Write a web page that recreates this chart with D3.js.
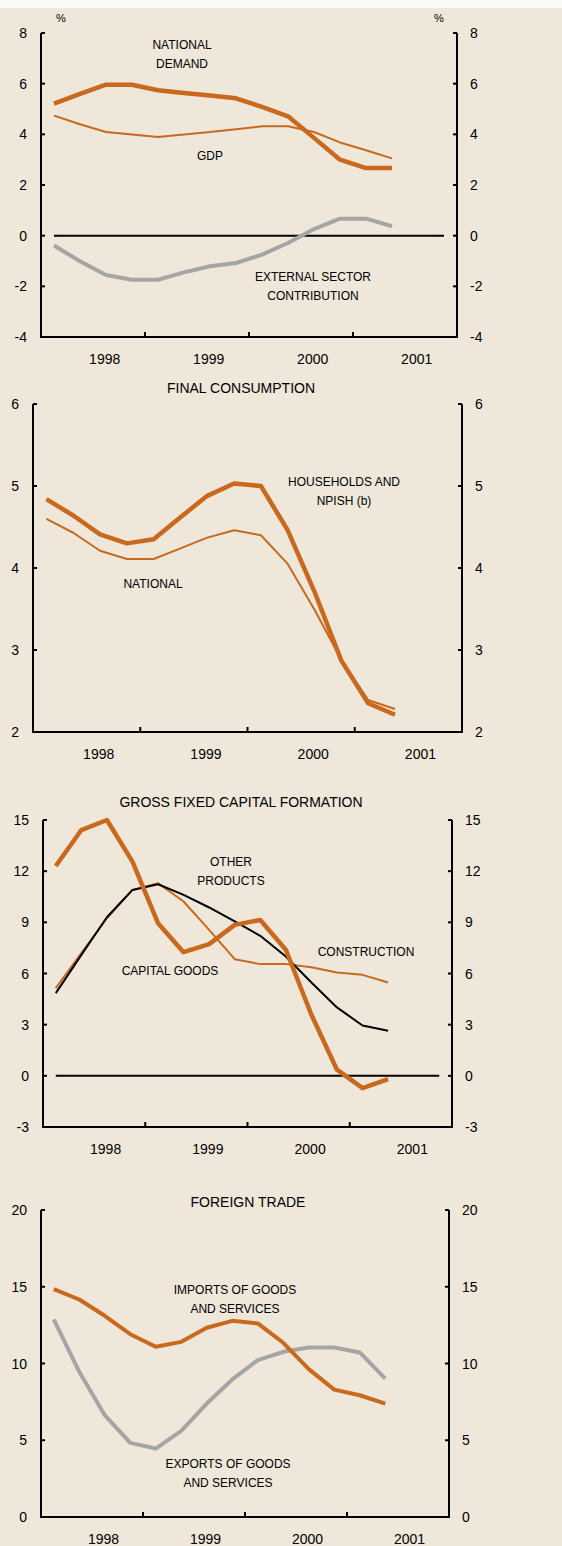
<!DOCTYPE html>
<html>
<head>
<meta charset="utf-8">
<script src="https://cdnjs.cloudflare.com/ajax/libs/d3/7.8.5/d3.min.js"></script>
<style>
  body { margin: 0; background: #efe7da; }
  svg { display: block; font-family: "Liberation Sans", Arial, sans-serif; }
</style>
</head>
<body>
<svg id="chart" width="562" height="1546"></svg>
<script>
// quarterly, 1998 Q1 .. 2001 Q2
var years = ['1998', '1999', '2000', '2001'];

// panel 1
var nationalDemand = [5.21, 5.6, 5.96, 5.96, 5.74, 5.63, 5.53, 5.42, 5.08, 4.71, 3.86, 3.0, 2.67, 2.67];
var gdp = [4.74, 4.4, 4.09, 3.99, 3.89, 3.99, 4.09, 4.2, 4.32, 4.32, 4.09, 3.68, 3.37, 3.05];
var externalSector = [-0.39, -1.01, -1.55, -1.74, -1.74, -1.45, -1.21, -1.08, -0.75, -0.29, 0.26, 0.67, 0.67, 0.37];

// panel 2
var households = [4.84, 4.64, 4.41, 4.3, 4.35, 4.62, 4.88, 5.03, 5.0, 4.46, 3.71, 2.87, 2.35, 2.21];
var nationalConsumption = [4.6, 4.43, 4.21, 4.11, 4.11, 4.24, 4.37, 4.46, 4.4, 4.05, 3.49, 2.88, 2.39, 2.28];

// panel 3
var otherProducts = [12.3, 14.41, 15.0, 12.56, 8.95, 7.25, 7.72, 8.85, 9.14, 7.39, 3.58, 0.36, -0.72, -0.19];
var construction = [5.14, 7.19, 9.24, 10.9, 11.29, 10.22, 8.56, 6.84, 6.55, 6.55, 6.37, 6.06, 5.92, 5.47];
var capitalGoods = [4.85, 7.09, 9.3, 10.9, 11.23, 10.61, 9.87, 9.05, 8.21, 7.0, 5.47, 4.01, 2.95, 2.64];

// panel 4
var imports = [14.85, 14.17, 13.11, 11.91, 11.09, 11.41, 12.33, 12.78, 12.61, 11.35, 9.63, 8.3, 7.93, 7.39];
var exports = [12.87, 9.46, 6.63, 4.83, 4.46, 5.61, 7.39, 8.96, 10.22, 10.76, 11.04, 11.04, 10.72, 9.02];

var ORANGE = '#c8691d', GREY = '#a5a5a5', BLACK = '#000';

var panels = [
  { left: 41, right: 457, top: 33, bottom: 337, domain: [-4, 8], step: 2, zero: true,
    series: [
      { values: gdp, color: ORANGE, width: 2 },
      { values: nationalDemand, color: ORANGE, width: 4.5 },
      { values: externalSector, color: GREY, width: 4 }
    ],
    labels: [
      { text: ['NATIONAL', 'DEMAND'], x: 182, y: 45 },
      { text: ['GDP'], x: 210, y: 156 },
      { text: ['EXTERNAL SECTOR', 'CONTRIBUTION'], x: 313, y: 277 }
    ] },
  { left: 33, right: 462, top: 404, bottom: 732, domain: [2, 6], step: 1,
    title: { text: 'FINAL CONSUMPTION', x: 241, y: 388 },
    series: [
      { values: nationalConsumption, color: ORANGE, width: 2 },
      { values: households, color: ORANGE, width: 4.5 }
    ],
    labels: [
      { text: ['HOUSEHOLDS AND', 'NPISH (b)'], x: 344, y: 482 },
      { text: ['NATIONAL'], x: 153, y: 584 }
    ] },
  { left: 43, right: 452, top: 820, bottom: 1127, domain: [-3, 15], step: 3, zero: true,
    title: { text: 'GROSS FIXED CAPITAL FORMATION', x: 241, y: 802 },
    series: [
      { values: construction, color: ORANGE, width: 2 },
      { values: capitalGoods, color: BLACK, width: 2 },
      { values: otherProducts, color: ORANGE, width: 4.5 }
    ],
    labels: [
      { text: ['OTHER', 'PRODUCTS'], x: 231, y: 862 },
      { text: ['CONSTRUCTION'], x: 366, y: 952 },
      { text: ['CAPITAL GOODS'], x: 170, y: 971 }
    ] },
  { left: 41, right: 449, top: 1210, bottom: 1517, domain: [0, 20], step: 5,
    title: { text: 'FOREIGN TRADE', x: 248, y: 1202 },
    series: [
      { values: exports, color: GREY, width: 4 },
      { values: imports, color: ORANGE, width: 4 }
    ],
    labels: [
      { text: ['IMPORTS OF GOODS', 'AND SERVICES'], x: 235, y: 1290 },
      { text: ['EXPORTS OF GOODS', 'AND SERVICES'], x: 228, y: 1464 }
    ] }
];

var svg = d3.select('#chart');
svg.append('rect').attr('width', 562).attr('height', 1546).attr('fill', '#efe7da');
svg.append('rect').attr('width', 562).attr('height', 8).attr('fill', '#fbfaf7');

svg.append('text').attr('x', 61).attr('y', 18).attr('text-anchor', 'middle')
  .attr('dominant-baseline', 'central').attr('font-size', 11).text('%');
svg.append('text').attr('x', 439).attr('y', 18).attr('text-anchor', 'middle')
  .attr('dominant-baseline', 'central').attr('font-size', 11).text('%');

var drawPanel = function(p) {
  var g = svg.append('g');
  var x = d3.scaleLinear().domain([0, 16]).range([p.left, p.right]);
  var y = d3.scaleLinear().domain(p.domain).range([p.bottom, p.top]);
  var ticks = d3.range(p.domain[0], p.domain[1] + p.step / 2, p.step);

  if (p.title) {
    g.append('text').attr('x', p.title.x).attr('y', p.title.y)
      .attr('text-anchor', 'middle').attr('dominant-baseline', 'central')
      .attr('font-size', 14).text(p.title.text);
  }

  // frame: left, right, bottom
  var frame = d3.path();
  frame.moveTo(p.left, p.top); frame.lineTo(p.left, p.bottom);
  frame.lineTo(p.right, p.bottom); frame.lineTo(p.right, p.top);
  g.append('path').attr('d', frame.toString()).attr('fill', 'none')
    .attr('stroke', BLACK).attr('stroke-width', 2);

  g.selectAll('.tl').data(ticks).enter().append('line')
    .attr('x1', p.left).attr('x2', p.left + 4)
    .attr('y1', function(d) { return y(d); }).attr('y2', function(d) { return y(d); })
    .attr('stroke', BLACK).attr('stroke-width', 2);
  g.selectAll('.tr').data(ticks).enter().append('line')
    .attr('x1', p.right - 4).attr('x2', p.right)
    .attr('y1', function(d) { return y(d); }).attr('y2', function(d) { return y(d); })
    .attr('stroke', BLACK).attr('stroke-width', 2);
  g.selectAll('.tb').data([4, 8, 12]).enter().append('line')
    .attr('x1', function(d) { return x(d); }).attr('x2', function(d) { return x(d); })
    .attr('y1', p.bottom - 5).attr('y2', p.bottom)
    .attr('stroke', BLACK).attr('stroke-width', 2);

  g.selectAll('.ll').data(ticks).enter().append('text')
    .attr('x', p.left - 14).attr('y', function(d) { return y(d); })
    .attr('text-anchor', 'end').attr('dominant-baseline', 'central')
    .attr('font-size', 14).text(function(d) { return d; });
  g.selectAll('.lr').data(ticks).enter().append('text')
    .attr('x', p.right + 13).attr('y', function(d) { return y(d); })
    .attr('dominant-baseline', 'central')
    .attr('font-size', 14).text(function(d) { return d; });

  g.selectAll('.yr').data(years).enter().append('text')
    .attr('x', function(d, i) { return x(i * 4 + 2.45); }).attr('y', p.bottom + 22)
    .attr('text-anchor', 'middle').attr('dominant-baseline', 'central')
    .attr('font-size', 14).text(function(d) { return d; });

  if (p.zero) {
    g.append('line').attr('x1', x(0.5)).attr('x2', x(15.5))
      .attr('y1', y(0)).attr('y2', y(0))
      .attr('stroke', BLACK).attr('stroke-width', 2);
  }

  var line = d3.line()
    .x(function(d, i) { return x(i + 0.5); })
    .y(function(d) { return y(d); });

  g.selectAll('.series').data(p.series).enter().append('path')
    .attr('d', function(s) { return line(s.values); })
    .attr('fill', 'none')
    .attr('stroke', function(s) { return s.color; })
    .attr('stroke-width', function(s) { return s.width; })
    .attr('stroke-linejoin', 'round');

  p.labels.forEach(function(l) {
    l.text.forEach(function(t, j) {
      g.append('text').attr('x', l.x).attr('y', l.y + j * 18.5)
        .attr('text-anchor', 'middle').attr('dominant-baseline', 'central')
        .attr('font-size', 12).text(t);
    });
  });
};

panels.forEach(drawPanel);
</script>
</body>
</html>
